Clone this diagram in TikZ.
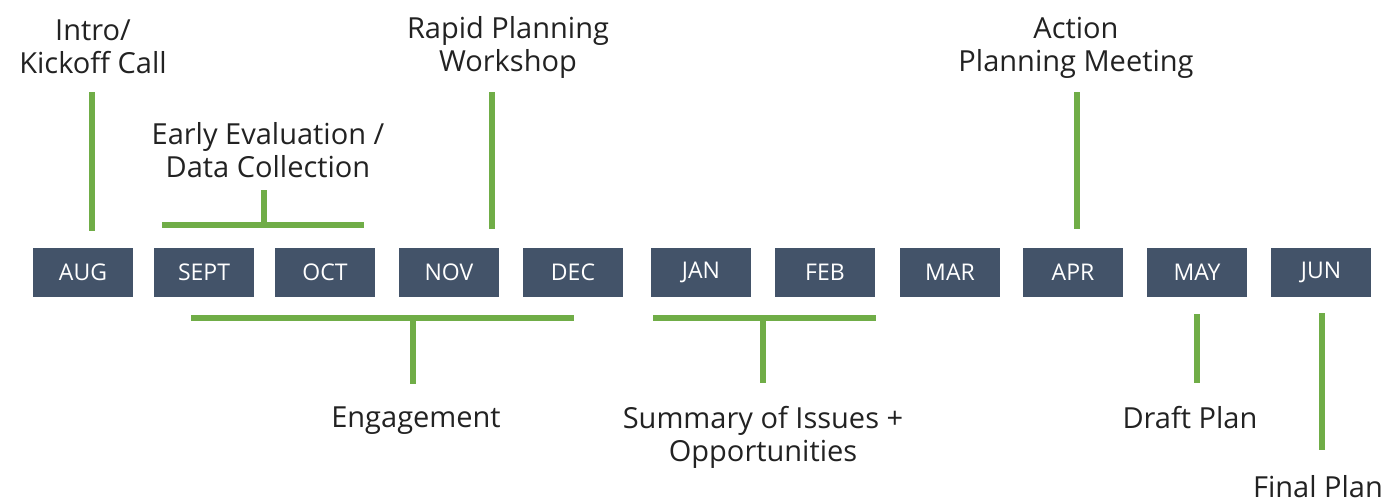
\documentclass[tikz,border=0pt]{standalone}
\usepackage{fontspec}
\setmainfont{Open Sans}
\definecolor{boxblue}{HTML}{435369}
\definecolor{lgreen}{HTML}{70AD47}
\definecolor{txt}{HTML}{222222}
\begin{document}
\begin{tikzpicture}[x=1pt,y=-1pt,
  month/.style={fill=boxblue,text=white,minimum width=100pt,minimum height=49pt,inner sep=0pt,font=\fontsize{23}{25}\selectfont},
  lab/.style={text=txt,align=center,inner sep=0pt,font=\fontsize{29}{33}\selectfont},
  gline/.style={draw=lgreen,line width=5.5pt}]
\useasboundingbox (0,0) rectangle (1387,503);
% months
\node[month] (aug)  at (83,272)   {AUG};
\node[month] (sep)  at (204,272)  {SEPT};
\node[month] (oct)  at (325,272)  {OCT};
\node[month] (nov)  at (449,272)  {NOV};
\node[month] (dec)  at (573,272)  {DEC};
\node[month] (jan)  at (701,272)  {JAN};
\node[month] (feb)  at (825,272)  {FEB};
\node[month] (mar)  at (950,272)  {MAR};
\node[month] (apr)  at (1073,272) {APR};
\node[month] (may)  at (1197,272) {MAY};
\node[month] (jun)  at (1321,272) {JUN};
% labels
\node[lab] (intro) at (93,47)  {Intro/\\Kickoff Call};
\node[lab] (early) at (268,150) {Early Evaluation /\\Data Collection};
\node[lab] (rapid) at (508,47) {Rapid Planning\\Workshop};
\node[lab] (action) at (1076,48) {Action\\Planning Meeting};
\node[lab] (engage) at (416,421) {Engagement};
\node[lab] (summ) at (763,437) {Summary of Issues +\\Opportunities};
\node[lab] (draft) at (1190,418) {Draft Plan};
\node[lab] (final) at (1318,487) {Final Plan};
% connector coordinates
\coordinate (i1) at (92,92);   \coordinate (i2) at (92,231);
\coordinate (e1) at (162,225); \coordinate (e2) at (364,225);
\coordinate (e3) at (264,190); \coordinate (e4) at (264,225);
\coordinate (r1) at (492,92);  \coordinate (r2) at (492,229);
\coordinate (a1) at (1077,92); \coordinate (a2) at (1077,229);
\coordinate (g1) at (191,318); \coordinate (g2) at (574,318);
\coordinate (g3) at (413,318); \coordinate (g4) at (413,384);
\coordinate (s1) at (653,318); \coordinate (s2) at (876,318);
\coordinate (s3) at (763,318); \coordinate (s4) at (763,383);
\coordinate (d1) at (1197,314); \coordinate (d2) at (1197,383);
\coordinate (f1) at (1322,313); \coordinate (f2) at (1322,450);
\draw[gline] (i1) -- (i2);
\draw[gline] (e1) -- (e2);
\draw[gline] (e3) -- (e4);
\draw[gline] (r1) -- (r2);
\draw[gline] (a1) -- (a2);
\draw[gline] (g1) -- (g2);
\draw[gline] (g3) -- (g4);
\draw[gline] (s1) -- (s2);
\draw[gline] (s3) -- (s4);
\draw[gline] (d1) -- (d2);
\draw[gline] (f1) -- (f2);
\end{tikzpicture}
\end{document}
